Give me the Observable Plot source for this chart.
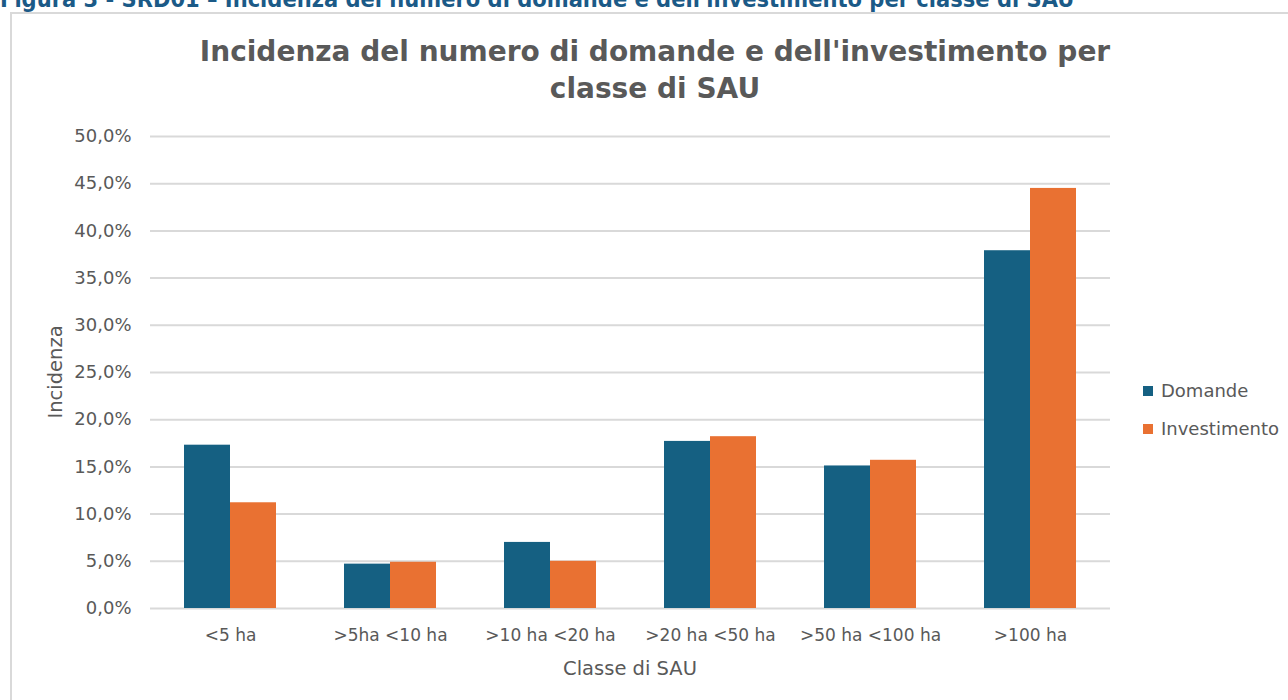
<!DOCTYPE html>
<html>
<head>
<meta charset="utf-8">
<script src="https://cdn.jsdelivr.net/npm/d3@7"></script>
<script src="https://cdn.jsdelivr.net/npm/@observablehq/plot@0.6"></script>
<style>
  html, body { margin: 0; padding: 0; background: #fff; width: 1288px; height: 700px; overflow: hidden; position: relative; }
  .abs { position: absolute; white-space: nowrap; }
  #header { left: 0; top: -14px; font-family: "DejaVu Sans Condensed", "DejaVu Sans", sans-serif; font-weight: bold; font-size: 23.4px; color: #1B5A87; line-height: 26px; }
  #box { left: 10px; top: 12px; width: 1300px; height: 720px; border: 2px solid #d9d9d9; box-sizing: border-box; }
  #title { left: 175px; width: 960px; top: 33px; text-align: center; font-family: "DejaVu Sans", sans-serif; font-weight: bold; font-size: 28px; line-height: 37px; color: #595959; white-space: normal; }
  #ylabel { left: 55px; top: 372px; transform: translate(-50%, -50%) rotate(-90deg); font-family: "DejaVu Sans", sans-serif; font-size: 19.5px; color: #595959; }
  #xlabel { left: 630px; top: 668px; transform: translate(-50%, -50%); font-family: "DejaVu Sans", sans-serif; font-size: 19.5px; color: #595959; }
  #legend { left: 1143px; top: 380px; font-family: "DejaVu Sans", sans-serif; font-size: 18px; color: #595959; }
  #legend div { height: 38px; line-height: 22px; }
  #legend span.sw { display: inline-block; width: 10px; height: 10px; margin-right: 8px; vertical-align: 1px; }
  #plot { left: 0; top: 120px; }
</style>
</head>
<body>
<div id="header" class="abs">Figura 3 - SRD01 – Incidenza del numero di domande e dell'investimento per classe di SAU</div>
<div id="box" class="abs"></div>
<div id="title" class="abs">Incidenza del numero di domande e dell'investimento per classe di SAU</div>
<div id="ylabel" class="abs">Incidenza</div>
<div id="xlabel" class="abs">Classe di SAU</div>
<div id="legend" class="abs"></div>
<div id="plot" class="abs"></div>
<script>
// ---- data ----
const categories = ["<5 ha", ">5ha <10 ha", ">10 ha <20 ha", ">20 ha <50 ha", ">50 ha <100 ha", ">100 ha"];
const seriesNames = ["Domande", "Investimento"];
const domande = [0.173, 0.047, 0.070, 0.177, 0.151, 0.379];
const investimento = [0.112, 0.049, 0.050, 0.182, 0.157, 0.445];
const seriesColors = ["#156082", "#E97132"];
const yTicks = [0, 0.05, 0.10, 0.15, 0.20, 0.25, 0.30, 0.35, 0.40, 0.45, 0.50];

const rows = [];
categories.forEach((c, i) => {
  rows.push({cat: c, series: seriesNames[0], value: domande[i]});
  rows.push({cat: c, series: seriesNames[1], value: investimento[i]});
});

const itLocale = d3.formatLocale({decimal: ",", thousands: ".", grouping: [3], currency: ["", "€"]});
const pct = itLocale.format(".1%");

const chart = Plot.plot({
  width: 1288,
  height: 580,
  marginLeft: 150,
  marginRight: 178,
  marginTop: 16,
  marginBottom: 92,
  style: {fontFamily: "DejaVu Sans, sans-serif", fontSize: "17px", color: "#595959", background: "transparent"},
  fx: {domain: categories, padding: 0, label: null, tickSize: 0, tickPadding: 20, axis: "bottom"},
  x: {domain: seriesNames, axis: null, paddingInner: 0, paddingOuter: 0.739},
  y: {domain: [0, 0.5], axis: null},
  color: {domain: seriesNames, range: seriesColors},
  marks: [
    Plot.gridY(yTicks, {stroke: "#d9d9d9", strokeOpacity: 1, strokeWidth: 2}),
    Plot.axisY(yTicks, {tickFormat: pct, tickSize: 0, tickPadding: 19, label: null, fontSize: 18}),
    Plot.barY(rows, {fx: "cat", x: "series", y: "value", fill: "series", inset: 0})
  ]
});
document.getElementById("plot").appendChild(chart);

const legend = document.getElementById("legend");
seriesNames.forEach((s, i) => {
  const d = document.createElement("div");
  d.innerHTML = `<span class="sw" style="background:${seriesColors[i]}"></span>${s}`;
  legend.appendChild(d);
});
</script>
</body>
</html>
